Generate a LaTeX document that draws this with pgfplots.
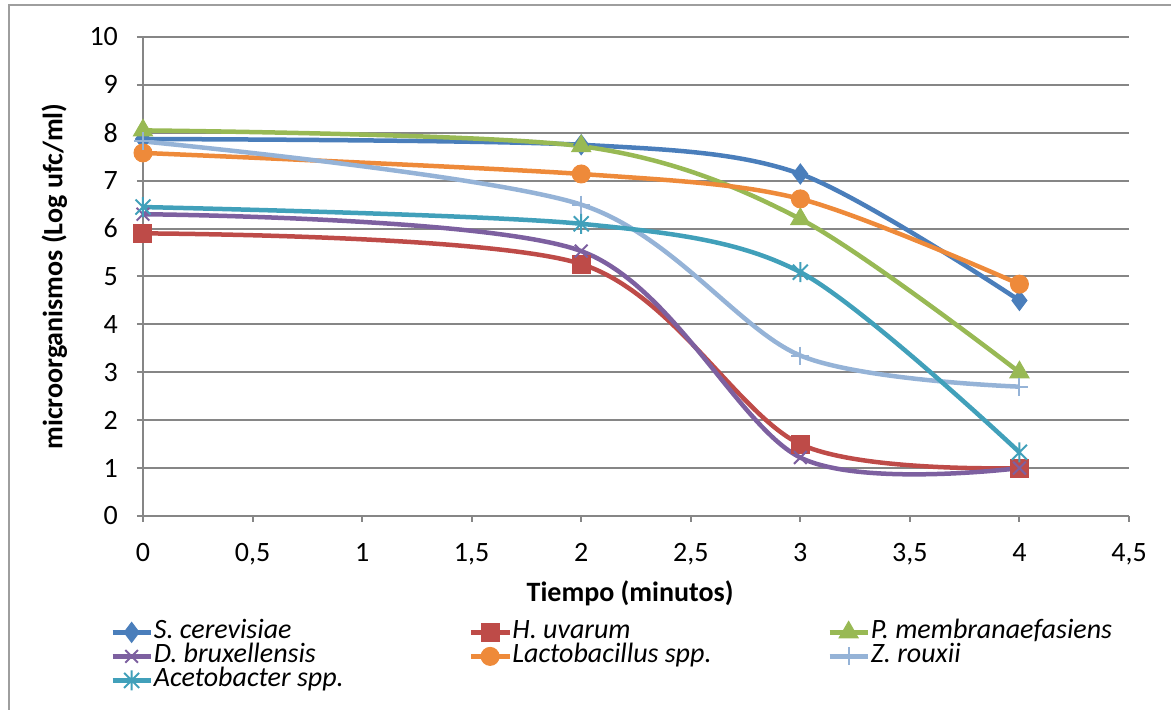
\documentclass[border=0pt]{standalone}
\usepackage{fontspec}
\setmainfont{Carlito}
\usepackage{pgfplots}
\pgfplotsset{compat=1.18}

\definecolor{cS}{HTML}{4A7EBB}
\definecolor{cH}{HTML}{BE4B48}
\definecolor{cP}{HTML}{98B954}
\definecolor{cD}{HTML}{7D60A0}
\definecolor{cL}{HTML}{EE8A3A}
\definecolor{cZ}{HTML}{95B3D7}
\definecolor{cA}{HTML}{41A0BA}
\definecolor{axgray}{HTML}{868686}

% Excel star: vertical bar plus an x
\pgfdeclareplotmark{xstar}{%
  \pgfpathmoveto{\pgfqpoint{0pt}{-\pgfplotmarksize}}%
  \pgfpathlineto{\pgfqpoint{0pt}{\pgfplotmarksize}}%
  \pgfpathmoveto{\pgfqpoint{-.75\pgfplotmarksize}{-.75\pgfplotmarksize}}%
  \pgfpathlineto{\pgfqpoint{.75\pgfplotmarksize}{.75\pgfplotmarksize}}%
  \pgfpathmoveto{\pgfqpoint{-.75\pgfplotmarksize}{.75\pgfplotmarksize}}%
  \pgfpathlineto{\pgfqpoint{.75\pgfplotmarksize}{-.75\pgfplotmarksize}}%
  \pgfusepathqstroke}

\begin{document}
\begin{tikzpicture}
\path[use as bounding box] (-71.5pt,-97pt) rectangle (514pt,258pt);
\draw[axgray!80, line width=1pt] (-67pt,-120pt) rectangle (530pt,255.5pt);
\begin{axis}[
    at={(0pt,0pt)}, anchor=south west,
    scale only axis, width=493pt, height=239.5pt,
    xmin=0, xmax=4.5, ymin=0, ymax=10,
    xtick={0,0.5,1,1.5,2,2.5,3,3.5,4,4.5},
    ytick={0,1,...,10},
    axis x line*=bottom, axis y line*=left,
    axis line style={draw=axgray, line width=1pt},
    ymajorgrids, grid style={axgray, line width=1pt},
    tick align=outside, major tick length=3pt,
    tick style={axgray, line width=1pt},
    tick label style={font=\fontsize{14}{16}\selectfont, text=black},
    /pgf/number format/assume math mode=true,
    xticklabel style={/pgf/number format/fixed, /pgf/number format/use comma,
        /pgf/number format/precision=1, yshift=-7pt},
    yticklabel style={xshift=-6pt},
    every axis y label/.style={at={(axis description cs:-0.09,0.5)}, rotate=90, anchor=center,
        font=\fontsize{14}{16}\selectfont\bfseries},
    every axis x label/.style={at={(axis description cs:0.494,-0.1608)}, anchor=center,
        font=\fontsize{14}{16}\selectfont\bfseries},
    ylabel={microorganismos (Log ufc/ml)},
    xlabel={Tiempo (minutos)},
    legend columns=3,
    legend style={at={(axis description cs:-0.0335,-0.2171)}, anchor=north west,
        draw=none, fill=none, inner sep=0pt, row sep=0pt,
        font=\fontsize{14}{16}\selectfont\itshape,
        nodes={inner sep=0.5pt, text height=8.8pt, text depth=2.2pt, anchor=west}},
    legend cell align=left,
    legend image code/.code={%
        \draw[mark repeat=2, mark phase=2, #1] plot coordinates {(0pt,0pt) (9.5pt,0pt) (19pt,0pt)};},
    every axis plot/.append style={line width=2.25pt, smooth},
]
\addplot[cS, mark=diamond*, mark size=5pt, mark options={solid, line width=0.5pt}]
    coordinates {(0,7.87) (2,7.75) (3,7.14) (4,4.5)};
\addlegendentry{\makebox[157pt][l]{S. cerevisiae}}
\addplot[cH, mark=square*, mark size=4.5pt, mark options={solid, line width=0.5pt}]
    coordinates {(0,5.9) (2,5.26) (3,1.5) (4,1.0)};
\addlegendentry{\makebox[157pt][l]{H. uvarum}}
\addplot[cP, mark=triangle*, mark size=5.5pt, mark options={solid, line width=0.5pt}]
    coordinates {(0,8.05) (2,7.72) (3,6.2) (4,3.0)};
\addlegendentry{\makebox[157pt][l]{P. membranaefasiens}}
\addplot[cD, mark=x, mark size=4.5pt, mark options={solid, line width=1pt}]
    coordinates {(0,6.3) (2,5.53) (3,1.22) (4,1.0)};
\addlegendentry{\makebox[157pt][l]{D. bruxellensis}}
\addplot[cL, mark=*, mark size=4.5pt, mark options={solid, line width=0.5pt}]
    coordinates {(0,7.58) (2,7.14) (3,6.62) (4,4.84)};
\addlegendentry{\makebox[157pt][l]{Lactobacillus spp.}}
\addplot[cZ, mark=+, mark size=4.5pt, mark options={solid, line width=1pt}]
    coordinates {(0,7.82) (2,6.5) (3,3.35) (4,2.7)};
\addlegendentry{\makebox[157pt][l]{Z. rouxii}}
\addplot[cA, mark=xstar, mark size=5pt, mark options={solid, line width=1pt}]
    coordinates {(0,6.45) (2,6.1) (3,5.09) (4,1.33)};
\addlegendentry{\makebox[157pt][l]{Acetobacter spp.}}
\end{axis}
\end{tikzpicture}
\end{document}
